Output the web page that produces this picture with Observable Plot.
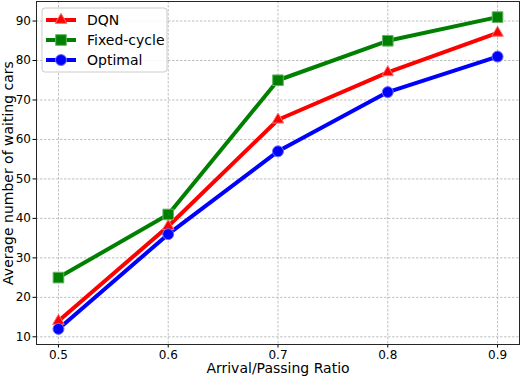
<!DOCTYPE html>
<html>
<head>
<meta charset="utf-8">
<script src="https://cdn.jsdelivr.net/npm/d3@7"></script>
<script src="https://cdn.jsdelivr.net/npm/@observablehq/plot@0.6"></script>
<style>
  html, body { margin: 0; padding: 0; background: #fff; }
  #chart { position: relative; width: 520px; height: 376px; }
  svg { font-family: "DejaVu Sans", sans-serif; }
</style>
</head>
<body>
<div id="chart"></div>
<script>
const ratios = [0.5, 0.6, 0.7, 0.8, 0.9];
const dqn = [14, 38, 65, 77, 87];
const fixedCycle = [25, 41, 75, 85, 91];
const optimal = [12, 36, 57, 72, 81];
const yTicks = [10, 20, 30, 40, 50, 60, 70, 80, 90];

const series = [
  {name: "DQN", values: dqn, color: "#ff0000", edge: "#ff7070", symbol: "triangle", r: 4.3},
  {name: "Fixed-cycle", values: fixedCycle, color: "#008000", edge: "#66b366", symbol: "square", r: 6.0},
  {name: "Optimal", values: optimal, color: "#0000ff", edge: "#7070ff", symbol: "circle", r: 5.5}
];

const rows = series.flatMap(s => s.values.map((v, i) => ({x: ratios[i], y: v, name: s.name})));

const marks = [
  Plot.gridX(ratios, {stroke: "#b0b0b0", strokeOpacity: 1, strokeWidth: 0.8, strokeDasharray: "2.5,1.5"}),
  Plot.gridY(yTicks, {stroke: "#b0b0b0", strokeOpacity: 1, strokeWidth: 0.8, strokeDasharray: "2.5,1.5"}),
];
for (const s of series) {
  const d = rows.filter(r => r.name === s.name);
  marks.push(Plot.line(d, {x: "x", y: "y", stroke: s.color, strokeWidth: 4}));
}
for (const s of series) {
  const d = rows.filter(r => r.name === s.name);
  marks.push(Plot.dot(d, {x: "x", y: "y", symbol: () => s.symbol, r: s.r, fill: s.color, stroke: s.edge, strokeWidth: 1}));
}
marks.push(Plot.frame({stroke: "#262626", strokeWidth: 1}));

const chart = Plot.plot({
  width: 520,
  height: 376,
  marginLeft: 36,
  marginRight: 1,
  marginTop: 1,
  marginBottom: 32,
  style: {fontFamily: "DejaVu Sans, sans-serif", fontSize: "12px", color: "#000", background: "#fff"},
  x: {domain: [0.48, 0.92], ticks: ratios, tickFormat: d3.format(".1f"), tickSize: 3.5, tickPadding: 2,
      label: "Arrival/Passing Ratio", labelAnchor: "center", labelArrow: "none", labelOffset: 28},
  y: {domain: [8.05, 94.95], ticks: yTicks, tickSize: 3.5, tickPadding: 2,
      label: "Average number of waiting cars", labelAnchor: "center", labelArrow: "none", labelOffset: 33},
  marks
});
document.getElementById("chart").appendChild(chart);

// enlarge axis labels
const svg = d3.select(chart);
svg.selectAll("[aria-label='x-axis label'] text, [aria-label='y-axis label'] text").style("font-size", "14px");

// legend
const lg = svg.append("g").attr("transform", "translate(42,8)").attr("text-anchor", "start");
lg.append("rect").attr("width", 125).attr("height", 64).attr("rx", 3)
  .attr("fill", "#fff").attr("fill-opacity", 0.85).attr("stroke", "#cccccc");
series.forEach((s, i) => {
  const cy = 12 + i * 20;
  lg.append("line").attr("x1", 4).attr("x2", 34).attr("y1", cy).attr("y2", cy)
    .attr("stroke", s.color).attr("stroke-width", 4);
  lg.append("path").attr("d", d3.symbol(s.symbol === "triangle" ? d3.symbolTriangle : s.symbol === "square" ? d3.symbolSquare : d3.symbolCircle, Math.PI * s.r * s.r)())
    .attr("transform", `translate(19,${cy})`).attr("fill", s.color).attr("stroke", s.edge);
  lg.append("text").attr("x", 45).attr("y", cy).attr("dy", "0.35em")
    .attr("text-anchor", "start")
    .style("font-size", "14px").attr("fill", "#000").text(s.name);
});
</script>
</body>
</html>
